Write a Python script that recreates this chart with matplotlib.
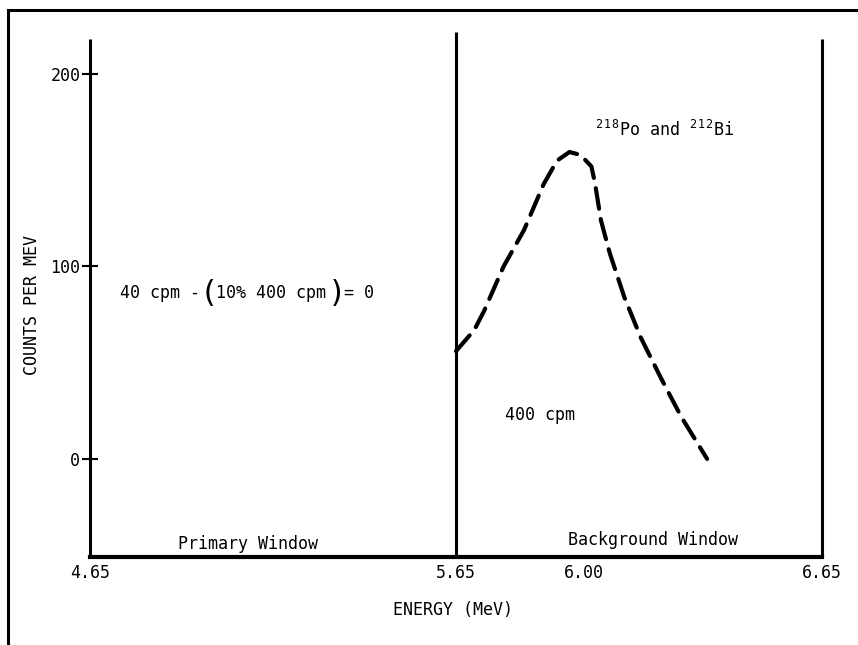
import matplotlib as mpl
from matplotlib import pyplot as plt
from matplotlib.lines import Line2D

mpl.rcParams['font.family'] = 'DejaVu Sans Mono'
mpl.rcParams['mathtext.fontset'] = 'custom'
mpl.rcParams['mathtext.rm'] = 'DejaVu Sans Mono'
mpl.rcParams['mathtext.it'] = 'DejaVu Sans Mono'

# spectrum
energy = [5.65, 5.70, 5.727, 5.78, 5.836, 5.89, 5.926, 5.96, 5.99, 6.02,
          6.03, 6.046, 6.07, 6.11, 6.155, 6.21, 6.265, 6.336]
counts = [56, 67, 77, 100, 119, 143, 155, 159.5, 158, 152,
          143, 124, 107, 84, 63, 42, 22, 0]

window_edges = [4.65, 5.65, 6.65]
window_tops = [218, 222, 218]
x_ticks = [4.65, 5.65, 6.00, 6.65]
x_labels = ['4.65', '5.65', '6.00', '6.65']
y_ticks = [0, 100, 200]
y_labels = ['0', '100', '200']

fs = 12

fig = plt.figure(figsize=(8.58, 6.45), dpi=100)
ax = fig.add_axes([90/858, 1-557/645, (822-90)/858, (557-26)/645])
ax.set_xlim(4.65, 6.65)
ax.set_ylim(-51, 225)

for s in ['top', 'right', 'left']:
    ax.spines[s].set_visible(False)
ax.spines['bottom'].set_linewidth(3)

ax.vlines(window_edges, -51, window_tops, colors='k', lw=2.2, clip_on=False)

ax.plot(energy, counts, color='k', lw=3, linestyle=(0, (5, 2.5)),
        solid_capstyle='round', dash_capstyle='round', clip_on=False)

ax.set_xticks(x_ticks)
ax.set_xticklabels(x_labels, fontsize=fs)
ax.tick_params(axis='x', length=0, pad=5)
ax.set_yticks(y_ticks)
ax.set_yticklabels(y_labels, fontsize=fs)
ax.tick_params(axis='y', direction='inout', length=12, width=1.5, pad=1)

# annotations
ax.text(4.732, 86, '40 cpm -', fontsize=fs, va='center', ha='left')
ax.text(4.950, 86, '(', fontsize=22, va='center', ha='left')
ax.text(4.995, 86, '10% 400 cpm', fontsize=fs, va='center', ha='left')
ax.text(5.300, 86, ')', fontsize=22, va='center', ha='left')
ax.text(5.345, 86, '= 0', fontsize=fs, va='center', ha='left')
ax.text(5.784, 23, '400 cpm', fontsize=fs, va='center', ha='left')
ax.text(6.03, 171, r'$^{2\,1\,8}$Po and $^{2\,1\,2}$Bi', fontsize=fs, va='center', ha='left')
ax.text(4.89, -44, 'Primary Window', fontsize=fs, va='center', ha='left')
ax.text(5.955, -42, 'Background Window', fontsize=fs, va='center', ha='left')

fig.text(453/858, 1-610/645, 'ENERGY (MeV)', fontsize=fs, ha='center', va='center')
fig.text(32/858, 1-305/645, 'COUNTS PER MEV', fontsize=fs, rotation=90,
         ha='center', va='center')

# outer frame (left and top edges only)
fig.add_artist(Line2D([8/858, 8/858], [0, 1-10/645], transform=fig.transFigure,
                      color='k', lw=2.2))
fig.add_artist(Line2D([8/858, 1], [1-10/645, 1-10/645], transform=fig.transFigure,
                      color='k', lw=2.2))

fig.savefig('out.png', dpi=100)
